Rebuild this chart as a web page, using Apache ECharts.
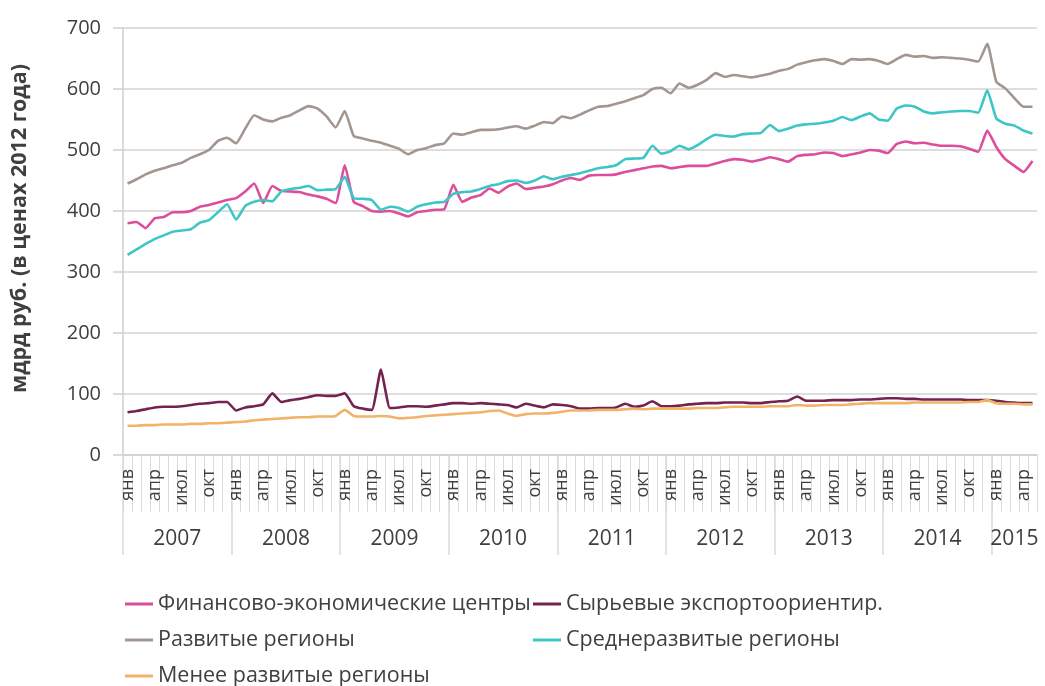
<!DOCTYPE html>
<html>
<head>
<meta charset="utf-8">
<script src="https://cdn.jsdelivr.net/npm/echarts@6/dist/echarts.min.js"></script>
<style>
html,body{margin:0;padding:0;background:#fff;}
#chart{width:1045px;height:686px;}
</style>
</head>
<body>
<div id="chart"></div>
<script>
// ---- data ----
const monthNames = ['янв','фев','мар','апр','май','июн','июл','авг','сен','окт','ноя','дек'];
const years = ['2007','2008','2009','2010','2011','2012','2013','2014','2015'];
const monthsIn2015 = 5;
const yTicks = [0,100,200,300,400,500,600,700];

const seriesNames = [
  'Финансово-экономические центры',
  'Сырьевые экспортоориентир.',
  'Развитые регионы',
  'Среднеразвитые регионы',
  'Менее развитые регионы'
];

const finCenters = [
  380,382,372,388,390,398,398,400,407,410,414,418,
  421,432,445,413,441,433,432,431,427,424,420,413,
  475,415,408,400,399,400,396,391,398,400,402,403,
  443,415,422,426,437,430,440,445,436,438,440,444,
  450,454,451,458,459,459,460,464,467,470,473,474,
  470,472,474,474,474,478,482,485,484,481,484,488,
  485,481,490,492,493,496,495,490,493,496,500,499,
  495,510,514,511,512,509,507,507,506,502,497,532,
  505,485,474,464,482
];
const rawExport = [
  70,72,75,78,79,79,80,82,84,85,87,87,
  73,78,80,83,101,87,90,92,95,98,97,97,
  101,80,76,74,140,77,78,80,80,79,81,83,
  85,85,84,85,84,83,82,78,84,81,78,83,
  82,80,76,76,77,77,78,84,79,81,88,80,
  80,81,83,84,85,85,86,86,86,85,85,87,
  88,89,96,89,89,89,90,90,90,91,91,92,
  93,93,92,92,91,91,91,91,91,90,90,90,
  89,87,86,85,85
];
const developed = [
  445,452,460,466,470,475,479,487,493,500,515,520,
  511,535,557,550,547,553,557,565,572,568,555,537,
  564,523,519,515,512,507,502,493,500,503,508,511,
  527,525,529,533,533,534,537,539,535,540,546,544,
  555,552,558,565,571,572,576,580,585,590,600,602,
  593,609,602,607,615,626,620,623,621,619,622,625,
  630,633,640,644,647,649,646,641,649,648,649,646,
  641,649,656,653,654,651,652,651,650,648,645,674,
  612,601,585,571,571
];
const midDeveloped = [
  328,337,346,354,360,366,368,370,381,385,398,411,
  386,408,415,418,416,432,436,438,441,434,435,436,
  456,421,420,418,402,407,405,399,407,411,414,415,
  428,431,432,436,441,444,449,450,446,450,457,452,
  456,459,462,466,470,472,475,485,486,487,507,494,
  498,507,501,508,518,525,523,522,526,527,528,541,
  531,535,540,542,543,545,548,554,549,555,560,550,
  548,568,573,571,563,560,562,563,564,564,561,598,
  552,543,540,532,527
];
const lessDeveloped = [
  48,48,49,49,50,50,50,51,51,52,52,53,
  54,55,57,58,59,60,61,62,62,63,63,64,
  74,64,63,63,64,63,60,61,62,64,65,66,
  67,68,69,70,72,73,68,64,67,68,68,69,
  71,73,73,73,74,74,74,75,76,75,76,76,
  76,76,76,77,77,77,78,79,79,79,79,80,
  80,80,82,81,81,82,82,82,83,84,85,85,
  85,85,85,86,86,86,86,86,86,87,87,90,
  85,84,84,83,83
];

const colors = ['#dc4e9c','#74224f','#a39690','#3ec6c6','#f1b368'];

// ---- build categories ----
const categories = [];
years.forEach((y, yi) => {
  const n = yi === years.length - 1 ? monthsIn2015 : 12;
  for (let m = 0; m < n; m++) categories.push(monthNames[m]);
});
const nCat = categories.length;
const yearStarts = years.map((y, i) => i * 12);
const yearCenters = years.map((y, i) => {
  const start = i * 12;
  const end = Math.min(start + 12, nCat);
  return (start + end) / 2;
});

const allData = [finCenters, rawExport, developed, midDeveloped, lessDeveloped];
const FONT = 'Open Sans';
const TXT = '#3f3f3f';

const chart = echarts.init(document.getElementById('chart'), null, {renderer: 'canvas'});
const legendCommon = {
  orient: 'vertical',
  icon: 'rect',
  itemWidth: 28,
  itemHeight: 3,
  itemGap: 14,
  padding: 0,
  height: 120,
  textStyle: {fontFamily: FONT, fontSize: 21.5, color: TXT}
};
chart.setOption({
  animation: false,
  color: colors,
  grid: {left: 123, right: 8, top: 28, bottom: 231, containLabel: false},
  legend: [
    Object.assign({}, legendCommon, {left: 125, top: 593, data: [seriesNames[0], seriesNames[2], seriesNames[4]]}),
    Object.assign({}, legendCommon, {left: 533, top: 593, data: [seriesNames[1], seriesNames[3]]})
  ],
  xAxis: [
    {
      type: 'category',
      data: categories,
      boundaryGap: true,
      axisLine: {show: true, lineStyle: {color: '#cfcfcf', width: 1.5}},
      axisTick: {show: true, interval: 0, length: 57, lineStyle: {color: '#dadada', width: 1}},
      axisLabel: {
        interval: (i) => i % 3 === 0,
        rotate: 90,
        margin: 14,
        fontFamily: FONT, fontSize: 18, color: TXT
      },
      splitLine: {show: false}
    },
    {
      type: 'value',
      min: 0,
      max: nCat,
      position: 'bottom',
      axisLine: {show: false},
      splitLine: {show: false},
      axisTick: {show: true, customValues: yearStarts, length: 100, lineStyle: {color: '#dadada', width: 1.5}},
      axisLabel: {
        customValues: yearCenters,
        formatter: (v) => years[Math.floor(v / 12)],
        margin: 74,
        fontFamily: FONT, fontSize: 21, color: TXT
      }
    }
  ],
  yAxis: {
    type: 'value',
    min: yTicks[0],
    max: yTicks[yTicks.length - 1],
    interval: 100,
    name: 'мдрд руб. (в ценах 2012 года)',
    nameLocation: 'middle',
    nameGap: 92,
    nameTextStyle: {fontFamily: FONT, fontSize: 21.5, fontWeight: 'bold', color: TXT, padding: [0, 0, 0, 26]},
    axisLine: {show: true, lineStyle: {color: '#cfcfcf', width: 1.5}},
    axisTick: {show: true, length: 10, lineStyle: {color: '#cfcfcf', width: 1.5}},
    axisLabel: {margin: 22, fontFamily: FONT, fontSize: 20, color: TXT},
    splitLine: {show: true, lineStyle: {color: '#dedede', width: 2}}
  },
  series: seriesNames.map((name, i) => ({
    name: name,
    type: 'line',
    data: allData[i],
    showSymbol: false,
    symbol: 'none',
    smooth: 0.15,
    lineStyle: {width: 2.6, color: colors[i]},
    itemStyle: {color: colors[i]}
  }))
});
</script>
</body>
</html>
